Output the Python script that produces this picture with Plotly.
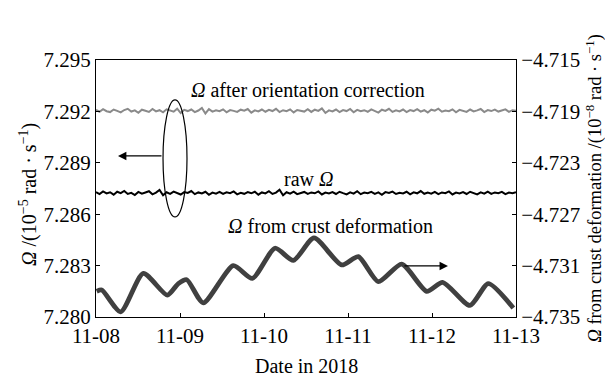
import pandas as pd
import plotly.graph_objects as go

# ---------------- data ----------------
flat_times = pd.date_range("2018-11-08 00:00", "2018-11-13 00:00", periods=120)

omega_corrected = [
    7.29209, 7.29198, 7.29213, 7.29201, 7.29196, 7.29211, 7.29203, 7.29194, 7.29208, 7.29215,
    7.29199, 7.29206, 7.29192, 7.29210, 7.29204, 7.29197, 7.29214, 7.29200, 7.29207, 7.29195,
    7.29212, 7.29203, 7.29198, 7.29216, 7.29190, 7.29209, 7.29202, 7.29211, 7.29196, 7.29205,
    7.29220, 7.29188, 7.29213, 7.29199, 7.29207, 7.29201, 7.29212, 7.29195, 7.29208, 7.29203,
    7.29197, 7.29210, 7.29204, 7.29214, 7.29193, 7.29206, 7.29200, 7.29211, 7.29198, 7.29209,
    7.29202, 7.29215, 7.29196, 7.29207, 7.29201, 7.29212, 7.29194, 7.29208, 7.29204, 7.29199,
    7.29213, 7.29197, 7.29210, 7.29203, 7.29218, 7.29191, 7.29206, 7.29200, 7.29211, 7.29196,
    7.29208, 7.29202, 7.29214, 7.29195, 7.29209, 7.29201, 7.29207, 7.29198, 7.29212, 7.29204,
    7.29193, 7.29210, 7.29203, 7.29215, 7.29197, 7.29206, 7.29200, 7.29211, 7.29196, 7.29208,
    7.29202, 7.29213, 7.29199, 7.29207, 7.29194, 7.29210, 7.29204, 7.29216, 7.29198, 7.29205,
    7.29201, 7.29212, 7.29195, 7.29209, 7.29203, 7.29197, 7.29211, 7.29200, 7.29206, 7.29214,
    7.29196, 7.29208, 7.29202, 7.29210, 7.29199, 7.29205, 7.29212, 7.29197, 7.29207, 7.29203,
]

omega_raw = [
    7.28729, 7.28717, 7.28733, 7.28721, 7.28728, 7.28714, 7.28731, 7.28723, 7.28736, 7.28718,
    7.28725, 7.28712, 7.28730, 7.28720, 7.28727, 7.28734, 7.28716, 7.28726, 7.28742, 7.28711,
    7.28728, 7.28719, 7.28732, 7.28722, 7.28715, 7.28729, 7.28724, 7.28735, 7.28717, 7.28727,
    7.28721, 7.28731, 7.28713, 7.28726, 7.28720, 7.28730, 7.28718, 7.28728, 7.28723, 7.28733,
    7.28716, 7.28725, 7.28719, 7.28729, 7.28722, 7.28731, 7.28714, 7.28727, 7.28721, 7.28734,
    7.28718, 7.28726, 7.28743, 7.28710, 7.28728, 7.28720, 7.28732, 7.28717, 7.28725, 7.28730,
    7.28719, 7.28727, 7.28722, 7.28733, 7.28715, 7.28726, 7.28721, 7.28729, 7.28718, 7.28731,
    7.28723, 7.28716, 7.28728, 7.28720, 7.28734, 7.28717, 7.28726, 7.28722, 7.28730, 7.28719,
    7.28727, 7.28713, 7.28729, 7.28724, 7.28732, 7.28718, 7.28725, 7.28721, 7.28731, 7.28716,
    7.28728, 7.28722, 7.28735, 7.28719, 7.28726, 7.28720, 7.28730, 7.28717, 7.28727, 7.28723,
    7.28733, 7.28715, 7.28726, 7.28721, 7.28729, 7.28718, 7.28731, 7.28724, 7.28716, 7.28728,
    7.28720, 7.28732, 7.28719, 7.28727, 7.28722, 7.28730, 7.28717, 7.28726, 7.28723, 7.28728,
]

crust_times = [
    "2018-11-08 00:12", "2018-11-08 01:38", "2018-11-08 07:03", "2018-11-08 13:31",
    "2018-11-08 20:23", "2018-11-08 23:31", "2018-11-09 01:55", "2018-11-09 06:39",
    "2018-11-09 15:14", "2018-11-09 20:40", "2018-11-10 03:09", "2018-11-10 08:23",
    "2018-11-10 14:17", "2018-11-10 22:12", "2018-11-11 02:57", "2018-11-11 08:40",
    "2018-11-11 15:20", "2018-11-11 22:29", "2018-11-12 03:03", "2018-11-12 10:51",
    "2018-11-12 16:05", "2018-11-12 23:14",
]
omega_crust = [
    -4.7330, -4.7329, -4.7346, -4.7316,
    -4.7333, -4.7324, -4.7321, -4.7339,
    -4.7310, -4.7320, -4.72965, -4.7306,
    -4.72885, -4.73095, -4.7303, -4.73225,
    -4.73088, -4.7330, -4.7323, -4.7341,
    -4.7324, -4.7343,
]

left_ticks = [7.280, 7.283, 7.286, 7.289, 7.292, 7.295]
right_ticks = [-4.735, -4.731, -4.727, -4.723, -4.719, -4.715]
x_ticks = ["2018-11-08", "2018-11-09", "2018-11-10", "2018-11-11", "2018-11-12", "2018-11-13"]
x_tick_text = ["11-08", "11-09", "11-10", "11-11", "11-12", "11-13"]

FONT = "Liberation Serif"

# ---------------- figure ----------------
fig = go.Figure()
fig.add_trace(go.Scatter(x=flat_times, y=omega_corrected, mode="lines",
                         line=dict(color="#8a8a8a", width=2), showlegend=False))
fig.add_trace(go.Scatter(x=flat_times, y=omega_raw, mode="lines",
                         line=dict(color="#000000", width=2), showlegend=False))
fig.add_trace(go.Scatter(x=crust_times, y=omega_crust, mode="lines", yaxis="y2",
                         line=dict(color="#404040", width=4.8, shape="spline", smoothing=0.65),
                         showlegend=False))

axis_common = dict(showline=True, linecolor="black", linewidth=1, ticks="inside",
                   ticklen=4, tickcolor="black", showgrid=False, zeroline=False,
                   tickfont=dict(family=FONT, size=21, color="black"))

fig.update_layout(
    width=605, height=378,
    margin=dict(l=96, r=89, t=60, b=61),
    paper_bgcolor="white", plot_bgcolor="white",
    font=dict(family=FONT, size=20, color="black"),
    xaxis=dict(type="date", range=["2018-11-08", "2018-11-13"],
               tickvals=x_ticks, ticktext=x_tick_text, mirror=True, **axis_common),
    yaxis=dict(range=[7.280, 7.295], tickvals=left_ticks, tickformat=".3f", **axis_common),
    yaxis2=dict(range=[-4.735, -4.715], tickvals=right_ticks, tickformat=".3f",
                overlaying="y", side="right", **axis_common),
)

# axis titles
fig.add_annotation(text="<i>Ω</i> /(10<sup>−5</sup> rad · s<sup>−1</sup>)", xref="paper", yref="paper",
                   x=-0.1595, y=0.475, textangle=-90, showarrow=False,
                   font=dict(family=FONT, size=20), xanchor="center", yanchor="middle")
fig.add_annotation(text="<i>Ω</i> from crust deformation /(10<sup>−8</sup> rad · s<sup>−1</sup>)",
                   xref="paper", yref="paper", x=1.186, y=0.50, textangle=-90, showarrow=False,
                   font=dict(family=FONT, size=18.5), xanchor="center", yanchor="middle")
fig.add_annotation(text="Date in 2018", xref="paper", yref="paper", x=0.5, y=-0.19,
                   showarrow=False, font=dict(family=FONT, size=20),
                   xanchor="center", yanchor="middle")

# series labels
fig.add_annotation(text="<i>Ω</i> after orientation correction", xref="paper", yref="paper",
                   x=(308 - 96) / 420, y=(317 - 90) / 257, showarrow=False,
                   font=dict(family=FONT, size=20), xanchor="center", yanchor="middle")
fig.add_annotation(text="raw <i>Ω</i>", xref="paper", yref="paper",
                   x=(308 - 96) / 420, y=(317 - 179) / 257, showarrow=False,
                   font=dict(family=FONT, size=20), xanchor="center", yanchor="middle")
fig.add_annotation(text="<i>Ω</i> from crust deformation", xref="paper", yref="paper",
                   x=(330 - 96) / 420, y=(317 - 226) / 257, showarrow=False,
                   font=dict(family=FONT, size=20), xanchor="center", yanchor="middle")

# ellipse grouping and arrows
fig.add_shape(type="circle", xref="x", yref="y",
              x0="2018-11-08 19:09", x1="2018-11-09 02:00", y0=7.28584, y1=7.29267,
              line=dict(color="black", width=1.2))
fig.add_annotation(x="2018-11-08 06:17", y=7.2894, xref="x", yref="y", text="",
                   showarrow=True, ax=45, ay=0, arrowhead=2, arrowsize=1.4,
                   arrowwidth=1.2, arrowcolor="black")
fig.add_annotation(x="2018-11-12 04:34", y=7.28298, xref="x", yref="y", text="",
                   showarrow=True, ax=-45, ay=0, arrowhead=2, arrowsize=1.4,
                   arrowwidth=1.2, arrowcolor="black")

fig.write_html("out.html")
